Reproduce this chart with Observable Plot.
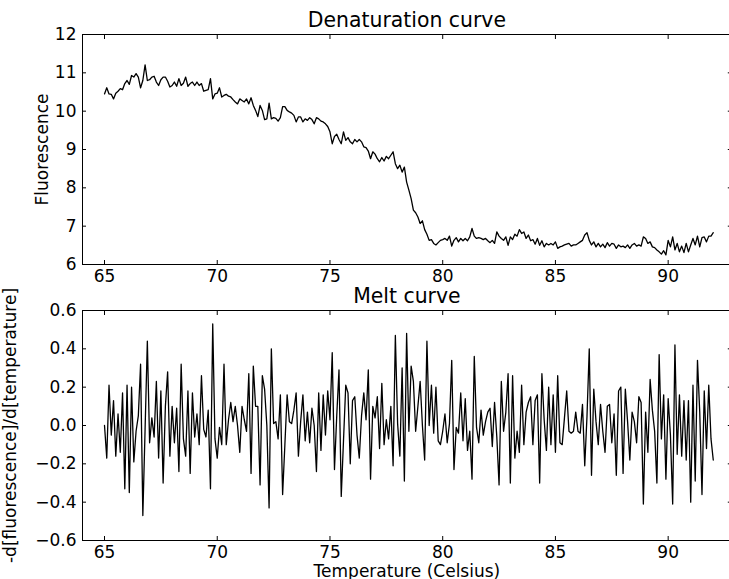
<!DOCTYPE html>
<html><head><meta charset="utf-8">
<script src="https://cdn.jsdelivr.net/npm/d3@7"></script>
<script src="https://cdn.jsdelivr.net/npm/@observablehq/plot@0.6"></script>
<style>
html,body{margin:0;padding:0;background:#fff;}
#chart{position:relative;width:729px;height:579px;overflow:hidden;background:#fff;}
#chart svg{position:absolute;left:0;}
</style></head><body><div id="chart"></div>
<script>
const temperature = [
65.0,65.1,65.2,65.3,65.4,65.5,65.6,65.7,65.8,65.9,
66.0,66.1,66.2,66.3,66.4,66.5,66.6,66.7,66.8,66.9,
67.0,67.1,67.2,67.3,67.4,67.5,67.6,67.7,67.8,67.9,
68.0,68.1,68.2,68.3,68.4,68.5,68.6,68.7,68.8,68.9,
69.0,69.1,69.2,69.3,69.4,69.5,69.6,69.7,69.8,69.9,
70.0,70.1,70.2,70.3,70.4,70.5,70.6,70.7,70.8,70.9,
71.0,71.1,71.2,71.3,71.4,71.5,71.6,71.7,71.8,71.9,
72.0,72.1,72.2,72.3,72.4,72.5,72.6,72.7,72.8,72.9,
73.0,73.1,73.2,73.3,73.4,73.5,73.6,73.7,73.8,73.9,
74.0,74.1,74.2,74.3,74.4,74.5,74.6,74.7,74.8,74.9,
75.0,75.1,75.2,75.3,75.4,75.5,75.6,75.7,75.8,75.9,
76.0,76.1,76.2,76.3,76.4,76.5,76.6,76.7,76.8,76.9,
77.0,77.1,77.2,77.3,77.4,77.5,77.6,77.7,77.8,77.9,
78.0,78.1,78.2,78.3,78.4,78.5,78.6,78.7,78.8,78.9,
79.0,79.1,79.2,79.3,79.4,79.5,79.6,79.7,79.8,79.9,
80.0,80.1,80.2,80.3,80.4,80.5,80.6,80.7,80.8,80.9,
81.0,81.1,81.2,81.3,81.4,81.5,81.6,81.7,81.8,81.9,
82.0,82.1,82.2,82.3,82.4,82.5,82.6,82.7,82.8,82.9,
83.0,83.1,83.2,83.3,83.4,83.5,83.6,83.7,83.8,83.9,
84.0,84.1,84.2,84.3,84.4,84.5,84.6,84.7,84.8,84.9,
85.0,85.1,85.2,85.3,85.4,85.5,85.6,85.7,85.8,85.9,
86.0,86.1,86.2,86.3,86.4,86.5,86.6,86.7,86.8,86.9,
87.0,87.1,87.2,87.3,87.4,87.5,87.6,87.7,87.8,87.9,
88.0,88.1,88.2,88.3,88.4,88.5,88.6,88.7,88.8,88.9,
89.0,89.1,89.2,89.3,89.4,89.5,89.6,89.7,89.8,89.9,
90.0,90.1,90.2,90.3,90.4,90.5,90.6,90.7,90.8,90.9,
91.0,91.1,91.2,91.3,91.4,91.5,91.6,91.7,91.8,91.9,
92.0];

const fluorescence = [
10.45,10.61,10.45,10.44,10.32,10.47,10.52,10.59,10.56,10.72,
10.80,10.70,10.93,10.89,10.98,10.89,10.61,10.80,11.21,10.80,
10.82,10.89,10.91,10.76,10.67,10.82,10.89,10.89,10.78,10.63,
10.67,10.76,10.65,10.85,10.67,10.73,10.89,10.65,10.72,10.76,
10.67,10.76,10.67,10.72,10.52,10.54,10.56,10.85,10.32,10.45,
10.47,10.61,10.37,10.41,10.44,10.39,10.37,10.30,10.24,10.19,
10.32,10.28,10.24,10.32,10.19,10.35,10.15,10.02,9.86,10.15,
10.02,9.78,9.80,10.21,9.80,9.83,9.81,9.74,9.83,10.12,
10.12,10.02,9.98,9.95,9.89,9.72,9.85,9.85,9.72,9.80,
9.76,9.83,9.78,9.67,9.83,9.80,9.74,9.72,9.67,9.60,
9.46,9.15,9.34,9.40,9.26,9.15,9.46,9.24,9.31,9.20,
9.15,9.26,9.20,9.26,9.20,9.07,9.05,8.96,8.76,8.94,
8.88,8.76,8.68,8.79,8.70,8.82,8.76,8.85,8.94,8.63,
8.50,8.59,8.41,8.54,8.15,7.94,7.72,7.42,7.35,7.24,
7.07,7.14,6.91,6.79,6.63,6.65,6.55,6.51,6.57,6.63,
6.65,6.68,6.63,6.74,6.48,6.63,6.70,6.59,6.68,6.62,
6.68,6.62,6.72,6.94,6.74,6.68,6.70,6.68,6.65,6.68,
6.62,6.57,6.63,6.55,6.85,6.74,6.68,6.63,6.72,6.50,
6.72,6.65,6.79,6.74,6.91,6.81,6.85,6.68,6.77,6.62,
6.65,6.53,6.68,6.50,6.62,6.46,6.55,6.51,6.55,6.51,
6.59,6.42,6.46,6.48,6.51,6.53,6.55,6.48,6.51,6.51,
6.55,6.59,6.63,6.77,6.83,6.63,6.51,6.59,6.46,6.55,
6.46,6.53,6.44,6.57,6.48,6.55,6.53,6.42,6.51,6.46,
6.48,6.44,6.51,6.42,6.51,6.55,6.48,6.51,6.48,6.72,
6.68,6.55,6.59,6.46,6.44,6.38,6.33,6.27,6.36,6.25,
6.63,6.46,6.72,6.38,6.55,6.33,6.48,6.31,6.55,6.33,
6.51,6.68,6.51,6.74,6.46,6.70,6.72,6.59,6.74,6.74,
6.83];

const melt = [
0.00,-0.17,0.21,-0.05,0.13,-0.16,0.06,-0.14,0.17,-0.33,
0.21,-0.35,0.20,-0.19,-0.03,0.05,0.32,-0.47,-0.02,0.44,
-0.09,0.04,-0.06,0.23,-0.17,0.18,-0.30,0.10,0.28,-0.16,
0.10,-0.09,0.09,-0.24,0.32,-0.07,-0.16,0.18,-0.25,0.17,
-0.06,0.06,-0.10,0.26,-0.02,-0.06,0.08,-0.33,0.53,-0.07,
-0.17,-0.01,-0.10,0.32,-0.10,0.03,0.12,0.02,0.10,0.00,
-0.14,0.10,0.03,-0.03,0.27,-0.25,0.31,0.10,0.10,-0.31,
0.26,0.19,0.00,-0.43,0.40,0.01,0.02,-0.07,0.16,-0.36,
-0.10,0.16,0.02,0.01,0.08,0.17,-0.16,0.02,0.16,-0.08,
0.07,-0.09,0.09,0.00,-0.24,0.17,-0.13,0.16,-0.05,0.18,
0.03,0.38,-0.23,0.05,0.29,-0.37,-0.08,0.21,0.17,-0.20,
0.13,0.15,-0.05,-0.17,0.05,0.17,0.03,0.29,-0.28,0.10,
0.04,0.15,-0.12,0.22,-0.10,0.03,-0.07,0.10,-0.21,0.47,
0.01,-0.16,0.30,-0.29,0.48,-0.03,0.31,0.23,-0.03,0.10,
0.23,0.00,-0.18,0.44,0.00,0.21,-0.04,0.20,-0.08,-0.10,
-0.03,0.06,-0.09,0.01,0.34,-0.23,-0.01,-0.04,0.17,-0.08,
0.14,-0.13,-0.03,-0.28,0.36,-0.01,-0.09,0.08,-0.05,0.02,
0.07,0.09,-0.11,0.12,-0.06,-0.31,0.23,-0.03,0.07,0.27,
-0.30,0.26,-0.17,-0.03,-0.14,0.21,-0.10,0.07,0.12,0.15,
-0.10,0.13,0.16,-0.30,0.27,0.03,-0.13,0.20,-0.10,0.16,
-0.14,0.26,-0.09,-0.10,0.04,0.18,-0.03,-0.04,-0.03,0.07,
-0.03,-0.04,0.11,-0.21,0.05,0.40,-0.26,0.19,0.02,-0.10,
0.11,-0.03,-0.14,0.10,0.11,-0.09,0.06,-0.26,0.18,0.20,
-0.25,0.19,0.02,-0.18,0.07,0.02,-0.09,0.15,0.12,-0.41,
0.07,-0.14,0.24,0.08,-0.03,-0.30,0.37,-0.07,0.16,-0.28,
0.14,-0.05,-0.41,0.42,-0.15,0.16,-0.16,0.13,-0.18,0.13,
-0.40,0.21,-0.29,0.34,0.07,-0.36,0.18,-0.12,0.21,-0.07,
-0.18];

const xTicks = [65, 70, 75, 80, 85, 90];
const fluorTicks = [6, 7, 8, 9, 10, 11, 12];
const meltTicks = [-0.6, -0.4, -0.2, 0, 0.2, 0.4, 0.6];
const panelTitles = ["Denaturation curve", "Melt curve"];
const yLabels = ["Fluorescence", "-d[fluorescence]/d[temperature]"];
const xLabel = "Temperature (Celsius)";

const denatRows = temperature.map((t, i) => ({t, v: fluorescence[i]}));
const meltRows = temperature.map((t, i) => ({t, v: melt[i]}));

const FONT = "DejaVu Sans";

function panel({rows, yDomain, yTicks, yFmt, height, marginTop, marginBottom, title, yLabel, yLabelDx, xLab}) {
  const marks = [
    Plot.frame({stroke: "black", strokeWidth: 1}),
    Plot.axisX(xTicks, {anchor: "bottom", tickSize: 0, tickPadding: 5, tickFormat: d => String(d), label: null, fontSize: 17}),
    Plot.axisX(xTicks, {anchor: "bottom", tickSize: -4, tickFormat: () => "", label: null}),
    Plot.axisX(xTicks, {anchor: "top", tickSize: -4, tickFormat: () => "", label: null}),
    Plot.axisY(yTicks, {anchor: "left", tickSize: 0, tickPadding: 6, tickFormat: yFmt, label: null, fontSize: 17}),
    Plot.axisY(yTicks, {anchor: "left", tickSize: -4, tickFormat: () => "", label: null}),
    Plot.axisY(yTicks, {anchor: "right", tickSize: -4, tickFormat: () => "", label: null}),
    Plot.line(rows, {x: "t", y: "v", stroke: "black", strokeWidth: 1.3}),
    Plot.text([title], {frameAnchor: "top", dy: -14, lineAnchor: "middle", fontSize: 20.4, text: d => d, fill: "black"}),
    Plot.text([yLabel], {frameAnchor: "left", dx: yLabelDx, rotate: -90, lineAnchor: "middle", textAnchor: "middle", fontSize: 17, text: d => d, fill: "black"})
  ];
  if (xLab) marks.push(Plot.text([xLab], {frameAnchor: "bottom", dy: 31.5, lineAnchor: "middle", fontSize: 17, text: d => d, fill: "black"}));
  return Plot.plot({
    width: 729,
    height,
    marginLeft: 82,
    marginRight: -1.8,
    marginTop,
    marginBottom,
    x: {domain: [64.024, 92.8], label: null},
    y: {domain: yDomain, label: null},
    style: {fontFamily: FONT, fontSize: "17px", color: "black", background: "transparent", overflow: "hidden"},
    marks
  });
}

const chart = document.getElementById("chart");
const p1 = panel({
  rows: denatRows, yDomain: [6, 12], yTicks: fluorTicks, yFmt: d => String(d),
  height: 285, marginTop: 34, marginBottom: 21,
  title: panelTitles[0], yLabel: yLabels[0], yLabelDx: -40
});
p1.style.top = "0px";
chart.appendChild(p1);
const fmt1 = d3.format(".1f");
const p2 = panel({
  rows: meltRows, yDomain: [-0.6, 0.6], yTicks: meltTicks, yFmt: d => fmt1(d),
  height: 309, marginTop: 40, marginBottom: 39,
  title: panelTitles[1], yLabel: yLabels[1], yLabelDx: -71.5, xLab: xLabel
});
p2.style.top = "270px";
chart.appendChild(p2);
</script>
</body></html>
